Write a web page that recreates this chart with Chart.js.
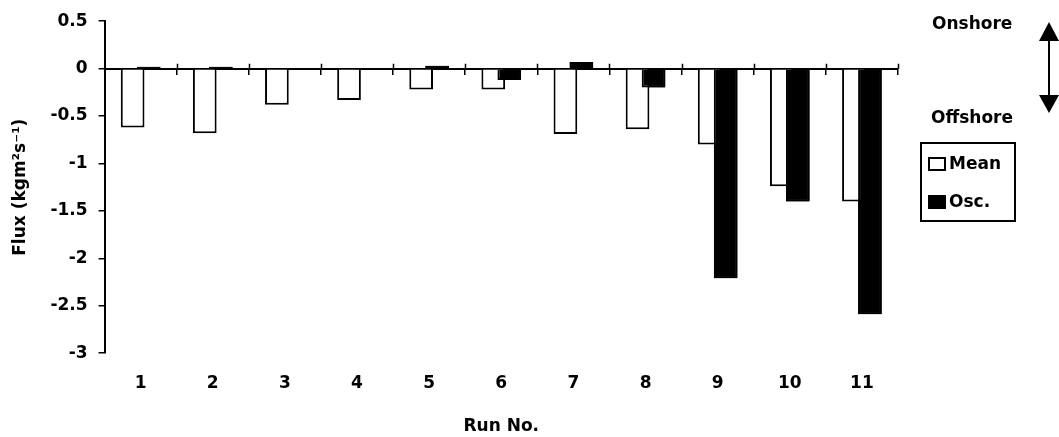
<!DOCTYPE html>
<html>
<head>
<meta charset="utf-8">
<script src="https://cdn.jsdelivr.net/npm/chart.js@4/dist/chart.umd.min.js"></script>
<style>
html, body { margin: 0; padding: 0; background: #fff; }
canvas { display: block; }
</style>
</head>
<body>
<canvas id="myChart" width="1059" height="437"></canvas>
<script>
var runs = ["1", "2", "3", "4", "5", "6", "7", "8", "9", "10", "11"];
var meanFlux = [-0.62, -0.68, -0.38, -0.33, -0.22, -0.22, -0.69, -0.64, -0.80, -1.24, -1.40];
var oscFlux = [0.02, 0.02, 0.0, -0.015, 0.03, -0.12, 0.07, -0.20, -2.21, -1.40, -2.59];
var yTicks = [0.5, 0, -0.5, -1, -1.5, -2, -2.5, -3];

Chart.defaults.font.family = "'DejaVu Sans'";
Chart.defaults.font.size = 17;
Chart.defaults.font.weight = 'bold';
Chart.defaults.color = '#000';

// osc bars sit on top of the mean bars where they overlap
var oscOnTop = {
    id: 'oscOnTop',
    afterDatasetsDraw: function(chart) {
        chart.getDatasetMeta(1).controller.draw();
    }
};

// onshore / offshore arrow, the boxed legend, and the upper half of the zero-line ticks
var sideNotes = {
    id: 'sideNotes',
    afterDraw: function(chart) {
        var c = chart.ctx;
        c.save();
        c.fillStyle = '#000';
        c.strokeStyle = '#000';

        var xs = chart.scales.x;
        var y0 = chart.scales.y.getPixelForValue(0);
        var step = xs.width / runs.length;
        c.lineWidth = 1.5;
        c.beginPath();
        for (var i = 1; i <= runs.length; i++) {
            var px = Math.round(xs.left + i * step) + 0.5;
            c.moveTo(px, y0 - 5);
            c.lineTo(px, y0);
        }
        c.stroke();

        c.font = "bold 17px 'DejaVu Sans'";
        c.textBaseline = 'middle';
        c.fillText('Onshore', 932, 25);
        c.fillText('Offshore', 931, 119);

        c.lineWidth = 2;
        c.beginPath();
        c.moveTo(1049, 36);
        c.lineTo(1049, 100);
        c.stroke();
        c.beginPath();
        c.moveTo(1049, 22); c.lineTo(1059, 41); c.lineTo(1039, 41);
        c.closePath(); c.fill();
        c.beginPath();
        c.moveTo(1049, 113); c.lineTo(1059, 95); c.lineTo(1039, 95);
        c.closePath(); c.fill();

        c.strokeRect(921, 143, 94, 78);
        chart.data.datasets.forEach(function(ds, i) {
            var y = 164 + i * 38;
            c.fillStyle = ds.backgroundColor;
            c.fillRect(929, y - 6, 16, 12);
            c.strokeRect(929, y - 6, 16, 12);
            c.fillStyle = '#000';
            c.fillText(ds.label, 949, y + 1);
        });
        c.restore();
    }
};

var ctx = document.getElementById('myChart');
var myChart = new Chart(ctx, {
    type: 'bar',
    data: {
        labels: runs,
        datasets: [
            {
                label: 'Mean',
                data: meanFlux,
                backgroundColor: '#ffffff',
                borderColor: '#000000',
                borderWidth: 2,
                categoryPercentage: 0.444,
                barPercentage: 1.48
            },
            {
                label: 'Osc.',
                data: oscFlux,
                backgroundColor: '#000000',
                borderColor: '#000000',
                borderWidth: 2,
                categoryPercentage: 0.444,
                barPercentage: 1.48
            }
        ]
    },
    options: {
        responsive: false,
        animation: false,
        layout: {
            padding: { left: 0, top: 10, right: 161, bottom: 0 }
        },
        plugins: {
            legend: { display: false },
            tooltip: { enabled: false }
        },
        scales: {
            x: {
                type: 'category',
                position: { y: 0 },
                offset: true,
                z: 1,
                ticks: { display: false },
                border: { color: '#000', width: 2 },
                grid: {
                    offset: true,
                    drawOnChartArea: false,
                    drawTicks: true,
                    tickLength: 5,
                    color: '#000',
                    lineWidth: 1.5
                }
            },
            xb: {
                type: 'category',
                position: 'bottom',
                labels: runs,
                offset: true,
                border: { display: false },
                grid: { display: false },
                ticks: { padding: 12, maxRotation: 0 },
                title: {
                    display: true,
                    text: 'Run No.',
                    padding: { top: 11, bottom: 0 }
                }
            },
            y: {
                min: -3,
                max: 0.5,
                afterBuildTicks: function(axis) {
                    axis.ticks = yTicks.map(function(v) { return { value: v }; });
                },
                border: { color: '#000', width: 2 },
                grid: {
                    drawOnChartArea: false,
                    tickLength: 6,
                    color: '#000',
                    lineWidth: 1.5
                },
                ticks: {
                    padding: 11,
                    callback: function(v) { return String(v); }
                },
                title: {
                    display: true,
                    text: 'Flux (kgm²s⁻¹)',
                    padding: { top: 10, bottom: 9 }
                }
            }
        }
    },
    plugins: [oscOnTop, sideNotes]
});
</script>
</body>
</html>
